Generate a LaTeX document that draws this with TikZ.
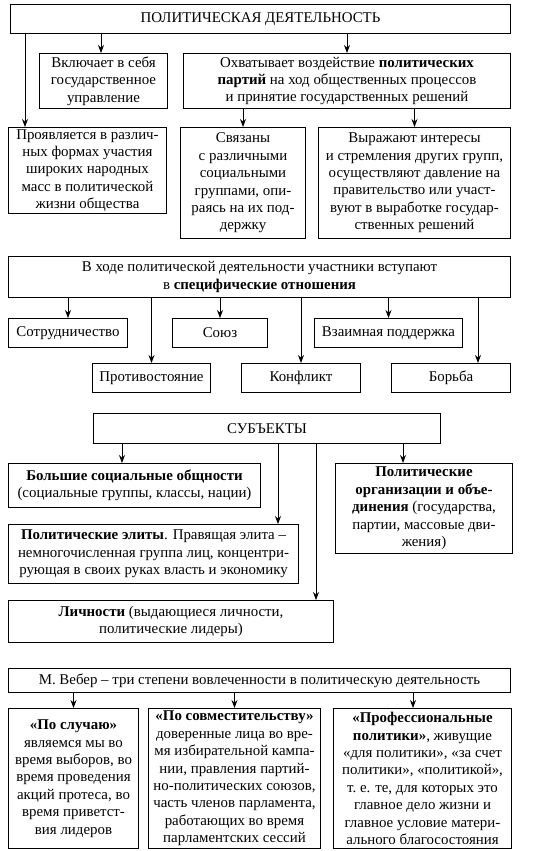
\documentclass[tikz,border=0pt]{standalone}
\usepackage{fontspec}
\setmainfont{Liberation Serif}
\usepackage{tikz}
\usetikzlibrary{arrows.meta,positioning}
\tikzset{
  block/.style={
    rectangle, draw, line width=1pt, fill=white,
    anchor=north west, align=center, inner sep=1pt,
    font=\fontsize{14.9pt}{17.4pt}\selectfont
  },
  arrow/.style={-{Stealth[length=8pt,width=6pt]}, line width=0.8pt},
}

\begin{document}
\begin{tikzpicture}[x=1pt,y=-1pt]
  \useasboundingbox (0,0) rectangle (533,851);

  % Activity
  \node[block, minimum width=500pt, minimum height=29pt] (act) at (10,4)
    {ПОЛИТИЧЕСКАЯ ДЕЯТЕЛЬНОСТЬ};
  \node[block, minimum width=128pt, minimum height=55pt] (incl) at (39,53)
    {Включает в себя\\государственное\\управление};
  \node[block, minimum width=327pt, minimum height=55pt] (cover) at (183,53)
    {Охватывает воздействие \textbf{политических}\\\textbf{партий} на ход общественных процессов\\и принятие государственных решений};
  \node[block, minimum width=158pt, minimum height=86pt] (mass) at (8,127)
    {Проявляется в различ-\\ных формах участия\\широких народных\\масс в политической\\жизни общества};
  \node[block, minimum width=125pt, minimum height=111pt] (linked) at (180,127)
    {Связаны\\с различными\\социальными\\группами, опи-\\раясь на их под-\\держку};
  \node[block, minimum width=192pt, minimum height=111pt] (express) at (318,127)
    {Выражают интересы\\и стремления других групп,\\осуществляют давление на\\правительство или участ-\\вуют в выработке государ-\\ственных решений};

  % Relations
  \node[block, minimum width=502pt, minimum height=41pt] (rel) at (8,256)
    {В ходе политической деятельности участники вступают\\в \textbf{специфические отношения}};
  \node[block, minimum width=119pt, minimum height=29pt] (coop) at (8,318) {Сотрудничество};
  \node[block, minimum width=95pt, minimum height=29pt] (union) at (172,318) {Союз};
  \node[block, minimum width=148pt, minimum height=29pt] (support) at (314,318) {Взаимная поддержка};
  \node[block, minimum width=118pt, minimum height=29pt] (oppo) at (92,363) {Противостояние};
  \node[block, minimum width=119pt, minimum height=29pt] (confl) at (241,363) {Конфликт};
  \node[block, minimum width=119pt, minimum height=29pt] (fight) at (391,363) {Борьба};

  % Subjects
  \node[block, minimum width=347pt, minimum height=30pt] (subj) at (93,413) {СУБЪЕКТЫ};
  \node[block, minimum width=252pt, minimum height=44pt] (groups) at (8,463)
    {\textbf{Большие социальные общности}\\(социальные группы, классы, нации)};
  \node[block, minimum width=177pt, minimum height=90pt] (orgs) at (335,463)
    {\textbf{Политические}\\\textbf{организации и объе-}\\\textbf{динения} (государства,\\партии, массовые дви-\\жения)};
  \node[block, minimum width=290pt, minimum height=59pt] (elite) at (8,524)
    {\textbf{Политические элиты}. Правящая элита –\\немногочисленная группа лиц, концентри-\\рующая в своих руках власть и экономику};
  \node[block, minimum width=325pt, minimum height=42pt] (person) at (8,600)
    {\textbf{Личности} (выдающиеся личности,\\политические лидеры)};

  % Weber
  \node[block, minimum width=502pt, minimum height=24pt] (weber) at (8,668)
    {М. Вебер – три степени вовлеченности в политическую деятельность};
  \node[block, minimum width=130pt, minimum height=140pt] (casual) at (8,708)
    {\textbf{«По случаю»}\\являемся мы во\\время выборов, во\\время проведения\\акций протеса, во\\время приветст-\\вия лидеров};
  \node[block, minimum width=172pt, minimum height=140pt] (part) at (148,708)
    {\textbf{«По совместительству»}\\доверенные лица во вре-\\мя избирательной кампа-\\нии, правления партий-\\но-политических союзов,\\часть членов парламента,\\работающих во время\\парламентских сессий};
  \node[block, minimum width=178pt, minimum height=140pt] (prof) at (333,708)
    {\textbf{«Профессиональные}\\\textbf{политики»}, живущие\\«для политики», «за счет\\политики», «политикой»,\\т.~е. те, для которых это\\главное дело жизни и\\главное условие матери-\\ального благосостояния};

  % Arrows
  \draw[arrow] (act.south -| 25,0) -- (mass.north -| 25,0);
  \draw[arrow] (act.south -| 101,0) -- (incl.north -| 101,0);
  \draw[arrow] (act.south -| cover.north) -- (cover.north);
  \draw[arrow] (cover.south -| linked.north) -- (linked.north);
  \draw[arrow] (cover.south -| express.north) -- (express.north);

  \draw[arrow] (rel.south -| coop.north) -- (coop.north);
  \draw[arrow] (rel.south -| oppo.north) -- (oppo.north);
  \draw[arrow] (rel.south -| union.north) -- (union.north);
  \draw[arrow] (rel.south -| confl.north) -- (confl.north);
  \draw[arrow] (rel.south -| support.north) -- (support.north);
  \draw[arrow] (rel.south -| 478,0) -- (fight.north -| 478,0);

  \draw[arrow] (subj.south -| 122,0) -- (groups.north -| 122,0);
  \draw[arrow] (subj.south -| 278,0) -- (elite.north -| 278,0);
  \draw[arrow] (subj.south -| 316,0) -- (person.north -| 316,0);
  \draw[arrow] (subj.south -| 403,0) -- (orgs.north -| 403,0);

  \draw[arrow] (weber.south -| casual.north) -- (casual.north);
  \draw[arrow] (weber.south -| part.north) -- (part.north);
  \draw[arrow] (weber.south -| 413,0) -- (prof.north -| 413,0);
\end{tikzpicture}
\end{document}
